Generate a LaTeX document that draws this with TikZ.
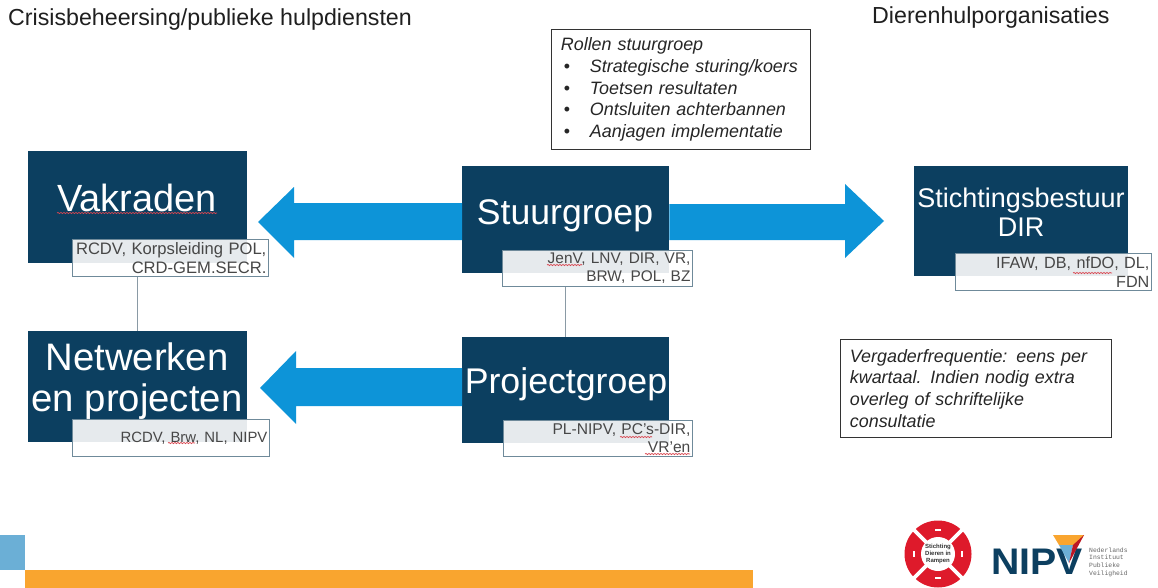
\documentclass[tikz,border=0pt]{standalone}
\usepackage{fontspec}
\setmainfont{Liberation Sans}
\newfontfamily\logomono{Liberation Mono}
\usetikzlibrary{calc,decorations.pathmorphing}
\definecolor{navy}{HTML}{0C3F60}
\definecolor{arrowblue}{HTML}{0D94D8}
\definecolor{subgray}{HTML}{E6EAED}
\definecolor{subedge}{HTML}{6F8A9A}
\definecolor{linegray}{HTML}{8A9AA5}
\definecolor{barorange}{HTML}{F9A52F}
\definecolor{sqblue}{HTML}{6BAFD6}
\definecolor{logored}{HTML}{DE1A2B}
\definecolor{squig}{HTML}{D9454F}
\tikzset{
  x=1pt,y=-1pt,
  mainbox/.style={fill=navy,draw=none,text=white,anchor=north west,inner sep=0pt,align=center},
  subbox/.style n args={4}{draw=subedge,line width=0.8pt,fill=white,anchor=north west,inner ysep=0pt,inner xsep=2pt,
    text width=#1pt-4pt,minimum height=#2pt,align=right,text=black!72,
    path picture={\fill[subgray] (path picture bounding box.north west) rectangle ++(#3,#4);}},
  notebox/.style={draw=black!80,line width=0.8pt,fill=white,anchor=north west,inner ysep=0pt,inner xsep=9.5pt,align=left,text=black!85},
  linkline/.style={draw=linegray,line width=0.9pt},
  bigarrow/.style={fill=arrowblue,draw=none},
  squiggle/.style={draw=squig,line width=0.7pt,decorate,decoration={snake,amplitude=0.6pt,segment length=3pt}},
  header/.style={anchor=west,inner sep=0pt,text=black!88,font=\fontsize{23.2}{26}\selectfont}
}
\begin{document}
\begin{tikzpicture}
\useasboundingbox (0,0) rectangle (1158,588);
\fill[white] (0,0) rectangle (1158,588);

% headers
\node[header] (h1) at (8,20) {Crisisbeheersing/publieke hulpdiensten};
\node[header] (h2) at (872,18) {Dierenhulporganisaties};

% main boxes
\node[mainbox,minimum width=219pt,minimum height=112pt] (vak) at (28,151) {};
\node[mainbox,minimum width=219pt,minimum height=111pt] (net) at (28,331) {};
\node[mainbox,minimum width=207pt,minimum height=107pt] (stuur) at (462,166) {};
\node[mainbox,minimum width=207pt,minimum height=106pt] (proj) at (462,337) {};
\node[mainbox,minimum width=214pt,minimum height=110pt] (stich) at (914,166) {};

% box titles
\node[text=white,inner sep=0pt,font=\fontsize{37.9}{40}\selectfont] (vakT) at (137,198) {Vakraden};
\node[text=white,inner sep=0pt,align=center,font=\fontsize{38.3}{41}\selectfont] (netT) at (137,381) {Netwerken\\en projecten};
\node[text=white,inner sep=0pt,font=\fontsize{35.6}{40}\selectfont] (stuurT) at (565,216) {Stuurgroep};
\node[text=white,inner sep=0pt,font=\fontsize{35.7}{40}\selectfont] (projT) at (566,384) {Projectgroep};
\node[text=white,inner sep=0pt,align=center,font=\fontsize{27}{29}\selectfont] (stichT) at (1021,212) {Stichtingsbestuur\\DIR};

% sub boxes
\node[subbox={196}{37}{175}{24},font=\fontsize{16.6}{18.5}\selectfont] (vaksub) at (72,239) {RCDV, Korpsleiding POL,\\CRD-GEM.SECR.};
\node[subbox={197}{37}{175}{23},font=\fontsize{14.9}{18}\selectfont] (netsub) at (72,419) {RCDV, Brw, NL, NIPV};
\node[subbox={190}{36}{167}{23},font=\fontsize{15.4}{18}\selectfont] (stuursub) at (502,250) {JenV, LNV, DIR, VR,\\BRW, POL, BZ};
\node[subbox={189}{36}{166}{23},font=\fontsize{15.6}{18}\selectfont] (projsub) at (503,420) {PL-NIPV, PC's-DIR,\\VR'en};
\node[subbox={196}{37}{173}{23},font=\fontsize{16.2}{18.5}\selectfont] (stichsub) at (955,253) {IFAW, DB, nfDO, DL,\\FDN};

% spelling squiggles
\draw[squiggle] (57,213) -- (217,213);
\draw[squiggle] (168,443) -- (195,443);
\draw[squiggle] (547,265) -- (582,265);
\draw[squiggle] (620,437) -- (652,437);
\draw[squiggle] (645,454) -- (690,454);
\draw[squiggle] (1073,273) -- (1112,273);

% connectors
\draw[linkline] (vaksub.south -| net.north) -- (net.north);
\draw[linkline] (stuursub.south -| proj.north) -- (proj.north);

% block arrows
\fill[bigarrow] (stuur.west |- 0,203) -- (294,203) -- (294,187) -- (258,222) -- (294,258) -- (294,240) -- (stuur.west |- 0,240) -- cycle;
\fill[bigarrow] (stuur.east |- 0,204) -- (845,204) -- (845,184) -- (884,221) -- (845,258) -- (845,240) -- (stuur.east |- 0,240) -- cycle;
\fill[bigarrow] (proj.west |- 0,368) -- (296,368) -- (296,351) -- (260,388) -- (296,424) -- (296,406) -- (proj.west |- 0,406) -- cycle;

% notes
\node[notebox,text width=240pt,minimum height=120pt,
  font=\fontsize{17.9}{21.7}\selectfont\itshape] (rollen) at (551,29)
 {Rollen stuurgroep\\
  \makebox[29pt][l]{\hspace{3pt}\upshape•}Strategische sturing/koers\\
  \makebox[29pt][l]{\hspace{3pt}\upshape•}Toetsen resultaten\\
  \makebox[29pt][l]{\hspace{3pt}\upshape•}Ontsluiten achterbannen\\
  \makebox[29pt][l]{\hspace{3pt}\upshape•}Aanjagen implementatie};
\node[notebox,text width=252pt,minimum height=98pt,
  font=\fontsize{17.9}{21.7}\selectfont\itshape] (verg) at (840,339)
 {Vergaderfrequentie: eens per\\kwartaal. Indien nodig extra\\overleg of schriftelijke\\consultatie};

% footer band
\fill[sqblue] (0,535) rectangle (25,570);
\fill[barorange] (25,570) rectangle (753,588);

% lifebuoy logo
\coordinate (bc) at (938,554);
\fill[logored] (bc) circle (33.5);
\fill[white] (bc) circle (17);
\foreach \a in {45,135,225,315}{
  \draw[white,line width=3.6pt] ($(bc)+(\a:16)$) -- ($(bc)+(\a:35)$);
}
\foreach \a in {0,90,180,270}{
  \draw[white,line width=1.8pt] ($(bc)+(\a:24)+(\a+90:3)$) -- ($(bc)+(\a:24)+(\a-90:3)$);
}
\node[inner sep=0pt,align=center,text=black!80,font=\fontsize{6}{6.6}\selectfont\bfseries] (buoy) at (bc) {Stichting\\Dieren in\\Rampen};

% NIPV logo
\node[anchor=west,inner sep=0pt,text=navy,font=\fontsize{37}{40}\selectfont\bfseries] (nipv) at (991,561.5) {\scalebox{1.06}[1]{NIPV}};
\fill[barorange] (1053,535) -- (1084,535) -- (1078,545) -- (1059,545) -- cycle;
\fill[sqblue] (1059,545) -- (1073,545) -- (1069,563) -- cycle;
\fill[logored!85!black] (1084,535) -- (1073,545) -- (1069,563) -- cycle;
\node[anchor=west,inner sep=0pt,align=left,text=black!60,font=\logomono\fontsize{6.4}{7.6}\selectfont] (nipvT) at (1089,562) {Nederlands\\Instituut\\Publieke\\Veiligheid};
\end{tikzpicture}
\end{document}
